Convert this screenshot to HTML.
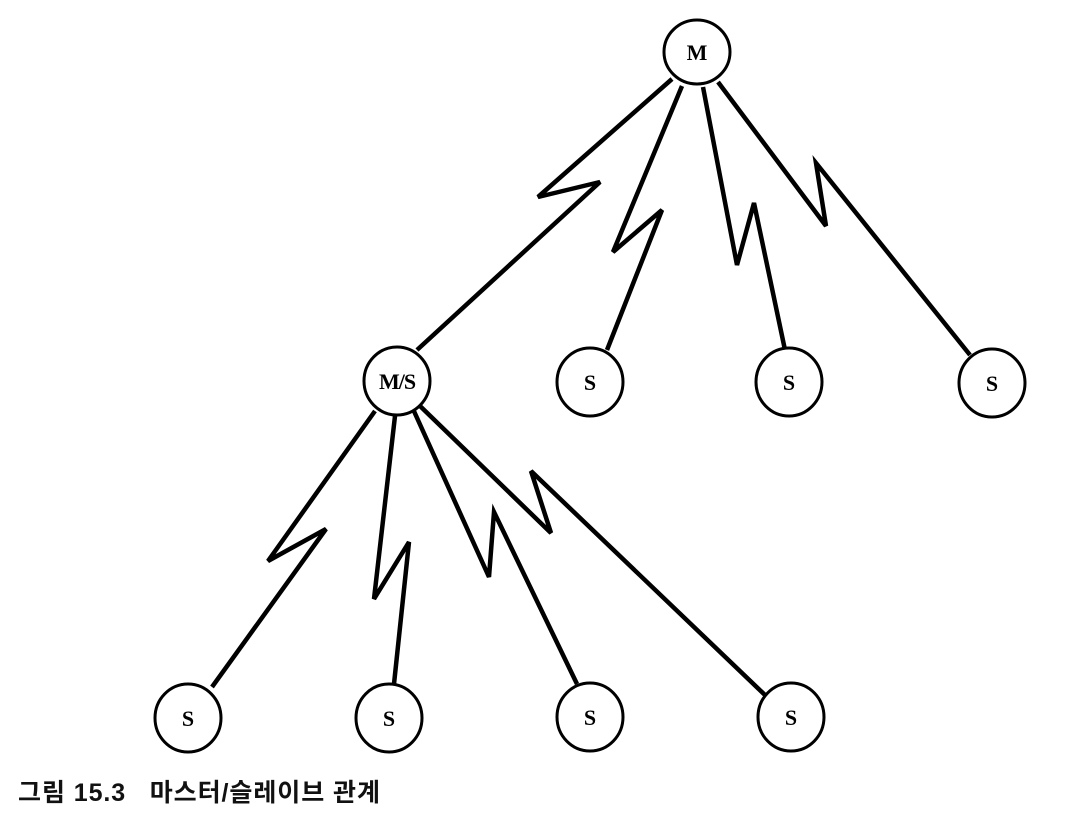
<!DOCTYPE html>
<html><head><meta charset="utf-8"><style>
html,body{margin:0;padding:0;background:#fff;}
svg{display:block;}
</style></head><body>
<svg width="1083" height="833" viewBox="0 0 1083 833" xmlns="http://www.w3.org/2000/svg">
<g fill="none" stroke="#000" stroke-width="4.5" stroke-linejoin="miter" stroke-linecap="butt">
<polyline points="672,79 538,197 600,182 417,350"/>
<polyline points="682,86 613,252 662,210 607,350"/>
<polyline points="703,87 737,265 754,203 785,350"/>
<polyline points="718,82 826,226 816,163 970,355"/>
<polyline points="375,411 268,561 326,529 212,687"/>
<polyline points="395,416 374,599 409,542 394,684"/>
<polyline points="413,409 489,577 494,512 577,684"/>
<polyline points="420,406 551,533 531,471 765,695"/>
</g>
<g fill="#fff" stroke="#000" stroke-width="3">
<ellipse cx="697" cy="52" rx="33" ry="32"/>
<ellipse cx="397" cy="381" rx="33" ry="34"/>
<ellipse cx="590" cy="382" rx="33" ry="34"/>
<ellipse cx="789" cy="382" rx="33" ry="34"/>
<ellipse cx="992" cy="383" rx="33" ry="34"/>
<ellipse cx="188" cy="718" rx="33" ry="34"/>
<ellipse cx="389" cy="718" rx="33" ry="34"/>
<ellipse cx="590" cy="717" rx="33" ry="34"/>
<ellipse cx="791" cy="717" rx="33" ry="34"/>
</g>
<g font-family="Liberation Serif, serif" font-weight="bold" font-size="22" text-anchor="middle" fill="#000">
<text x="697" y="60">M</text>
<text x="397" y="389" letter-spacing="-1">M/S</text>
<text x="590" y="390">S</text>
<text x="789" y="390">S</text>
<text x="992" y="391">S</text>
<text x="188" y="726">S</text>
<text x="389" y="726">S</text>
<text x="590" y="725">S</text>
<text x="791" y="725">S</text>
</g>
<text x="18" y="801" font-family="Liberation Sans, 'Noto Sans CJK KR', sans-serif" font-size="25" font-weight="bold" fill="#111" textLength="362" lengthAdjust="spacing" xml:space="preserve">그림 15.3   마스터/슬레이브 관계</text>
</svg>
</body></html>
